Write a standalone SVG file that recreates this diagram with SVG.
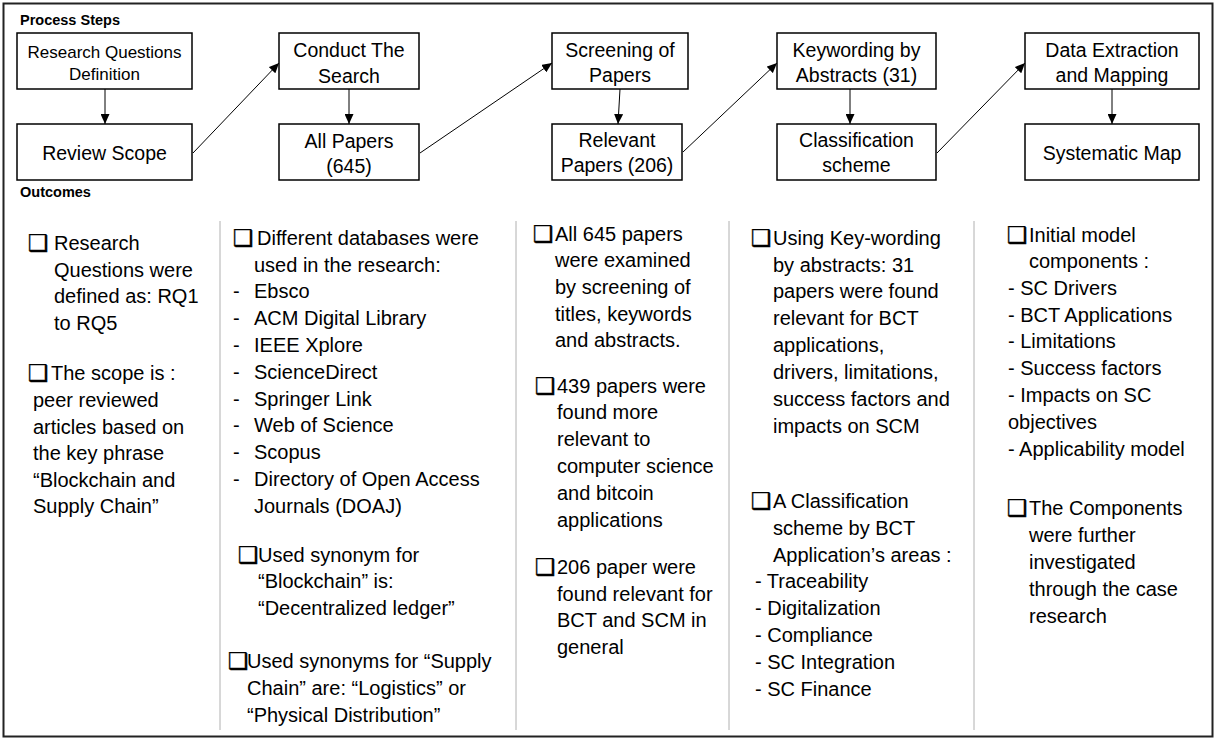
<svg xmlns="http://www.w3.org/2000/svg" width="1216" height="740" viewBox="0 0 1216 740">
<style>
text{font-family:"Liberation Sans",Arial,sans-serif;fill:#000}
.box{fill:#fff;stroke:#000;stroke-width:1.5}
.lbl{font-size:19.5px;text-anchor:middle}
.small{font-size:17px}
.hdr{font-size:14.5px;font-weight:bold}
.t{font-size:20px}
.bul{font-family:"DejaVu Sans",sans-serif;font-size:23px;stroke:#000;stroke-width:0.4}
.sep{stroke:#b0b0b0;stroke-width:1}
.conn{stroke:#000;stroke-width:1;fill:none;marker-end:url(#ah)}
</style>
<defs>
<marker id="ah" markerUnits="userSpaceOnUse" markerWidth="10" markerHeight="9" refX="10" refY="4.5" orient="auto">
<path d="M0,0 L10,4.5 L0,9 z" fill="#000"/>
</marker>
</defs>
<rect x="3.5" y="3.5" width="1209" height="733" fill="#fff" stroke="#222" stroke-width="2"/>
<text class="hdr" x="20" y="25">Process Steps</text>
<text class="hdr" x="20" y="197">Outcomes</text>

<g id="n-rqd"><rect class="box" x="17" y="33" width="175" height="56"/><text class="lbl small" x="104.5" y="58">Research Questions</text><text class="lbl small" x="104.5" y="80">Definition</text></g>
<g id="n-scope"><rect class="box" x="17" y="124" width="175" height="56"/><text class="lbl" x="104.5" y="160">Review Scope</text></g>
<g id="n-search"><rect class="box" x="279" y="33" width="140" height="56"/><text class="lbl" x="349" y="57">Conduct The</text><text class="lbl" x="349" y="83">Search</text></g>
<g id="n-all"><rect class="box" x="279" y="124" width="140" height="56"/><text class="lbl" x="349" y="148">All Papers</text><text class="lbl" x="349" y="173">(645)</text></g>
<g id="n-screen"><rect class="box" x="552" y="33" width="136" height="56"/><text class="lbl" x="620" y="57">Screening of</text><text class="lbl" x="620" y="82">Papers</text></g>
<g id="n-relevant"><rect class="box" x="552" y="124" width="130" height="56"/><text class="lbl" x="617" y="147">Relevant</text><text class="lbl" x="617" y="172">Papers (206)</text></g>
<g id="n-keyword"><rect class="box" x="777" y="33" width="159" height="56"/><text class="lbl" x="856.5" y="57">Keywording by</text><text class="lbl" x="856.5" y="82">Abstracts (31)</text></g>
<g id="n-class"><rect class="box" x="777" y="124" width="159" height="56"/><text class="lbl" x="856.5" y="147">Classification</text><text class="lbl" x="856.5" y="172">scheme</text></g>
<g id="n-data"><rect class="box" x="1025" y="33" width="174" height="56"/><text class="lbl" x="1112" y="57">Data Extraction</text><text class="lbl" x="1112" y="82">and Mapping</text></g>
<g id="n-map"><rect class="box" x="1025" y="124" width="174" height="56"/><text class="lbl" x="1112" y="160">Systematic Map</text></g>

<g id="connectors">
<line class="conn" x1="105" y1="89" x2="105" y2="124"/>
<line class="conn" x1="349" y1="89" x2="349" y2="124"/>
<line class="conn" x1="620" y1="89" x2="618" y2="124"/>
<line class="conn" x1="850" y1="89" x2="850" y2="124"/>
<line class="conn" x1="1112" y1="89" x2="1112" y2="124"/>
<line class="conn" x1="193" y1="153" x2="279" y2="63"/>
<line class="conn" x1="420" y1="153" x2="552" y2="63"/>
<line class="conn" x1="683" y1="152" x2="777" y2="63"/>
<line class="conn" x1="937" y1="153" x2="1025" y2="63"/>
</g>

<g id="separators">
<line class="sep" x1="220" y1="221" x2="220" y2="730"/>
<line class="sep" x1="516" y1="221" x2="516" y2="730"/>
<line class="sep" x1="729" y1="221" x2="729" y2="730"/>
<line class="sep" x1="974" y1="221" x2="974" y2="730"/>
</g>

<g id="col1">
<text class="bul" x="28" y="251">❑</text>
<text class="t" x="54" y="250">Research</text>
<text class="t" x="54" y="276.5">Questions were</text>
<text class="t" x="54" y="303">defined as: RQ1</text>
<text class="t" x="54" y="329.5">to RQ5</text>
<text class="bul" x="28" y="381">❑</text>
<text class="t" x="51" y="380">The scope is :</text>
<text class="t" x="33" y="407">peer reviewed</text>
<text class="t" x="33" y="433.5">articles based on</text>
<text class="t" x="33" y="460">the key phrase</text>
<text class="t" x="33" y="487">“Blockchain and</text>
<text class="t" x="33" y="513">Supply Chain”</text>
</g>

<g id="col2">
<text class="bul" x="233" y="246">❑</text>
<text class="t" x="257" y="245">Different databases were</text>
<text class="t" x="254" y="272">used in the research:</text>
<text class="t" x="233" y="298">-</text><text class="t" x="254" y="298">Ebsco</text>
<text class="t" x="233" y="325">-</text><text class="t" x="254" y="325">ACM Digital Library</text>
<text class="t" x="233" y="352">-</text><text class="t" x="254" y="352">IEEE Xplore</text>
<text class="t" x="233" y="379">-</text><text class="t" x="254" y="379">ScienceDirect</text>
<text class="t" x="233" y="406">-</text><text class="t" x="254" y="406">Springer Link</text>
<text class="t" x="233" y="432">-</text><text class="t" x="254" y="432">Web of Science</text>
<text class="t" x="233" y="459">-</text><text class="t" x="254" y="459">Scopus</text>
<text class="t" x="233" y="486">-</text><text class="t" x="254" y="486">Directory of Open Access</text>
<text class="t" x="254" y="513">Journals (DOAJ)</text>
<text class="bul" x="238" y="563">❑</text>
<text class="t" x="258" y="562">Used synonym for</text>
<text class="t" x="258" y="588">“Blockchain” is:</text>
<text class="t" x="258" y="615">“Decentralized ledger”</text>
<text class="bul" x="228" y="669">❑</text>
<text class="t" x="247" y="668">Used synonyms for “Supply</text>
<text class="t" x="247" y="695">Chain” are: “Logistics” or</text>
<text class="t" x="247" y="722">“Physical Distribution”</text>
</g>

<g id="col3">
<text class="bul" x="533" y="242">❑</text>
<text class="t" x="555" y="241">All 645 papers</text>
<text class="t" x="555" y="267">were examined</text>
<text class="t" x="555" y="294">by screening of</text>
<text class="t" x="555" y="321">titles, keywords</text>
<text class="t" x="555" y="347">and abstracts.</text>
<text class="bul" x="535" y="394">❑</text>
<text class="t" x="557" y="393">439 papers were</text>
<text class="t" x="557" y="419">found more</text>
<text class="t" x="557" y="446">relevant to</text>
<text class="t" x="557" y="473">computer science</text>
<text class="t" x="557" y="500">and bitcoin</text>
<text class="t" x="557" y="527">applications</text>
<text class="bul" x="535" y="575">❑</text>
<text class="t" x="557" y="574">206 paper were</text>
<text class="t" x="557" y="601">found relevant for</text>
<text class="t" x="557" y="627">BCT and SCM in</text>
<text class="t" x="557" y="654">general</text>
</g>

<g id="col4">
<text class="bul" x="751" y="246">❑</text>
<text class="t" x="773" y="245">Using Key-wording</text>
<text class="t" x="773" y="272">by abstracts: 31</text>
<text class="t" x="773" y="298">papers were found</text>
<text class="t" x="773" y="325">relevant for BCT</text>
<text class="t" x="773" y="352">applications,</text>
<text class="t" x="773" y="379">drivers, limitations,</text>
<text class="t" x="773" y="406">success factors and</text>
<text class="t" x="773" y="433">impacts on SCM</text>
<text class="bul" x="751" y="509">❑</text>
<text class="t" x="773" y="508">A Classification</text>
<text class="t" x="773" y="535">scheme by BCT</text>
<text class="t" x="773" y="562">Application’s areas :</text>
<text class="t" x="755" y="588">- Traceability</text>
<text class="t" x="755" y="615">- Digitalization</text>
<text class="t" x="755" y="642">- Compliance</text>
<text class="t" x="755" y="669">- SC Integration</text>
<text class="t" x="755" y="696">- SC Finance</text>
</g>

<g id="col5">
<text class="bul" x="1007" y="243">❑</text>
<text class="t" x="1029" y="242">Initial model</text>
<text class="t" x="1029" y="268">components :</text>
<text class="t" x="1008" y="295">- SC Drivers</text>
<text class="t" x="1008" y="322">- BCT Applications</text>
<text class="t" x="1008" y="348">- Limitations</text>
<text class="t" x="1008" y="375">- Success factors</text>
<text class="t" x="1008" y="402">- Impacts on SC</text>
<text class="t" x="1008" y="429">objectives</text>
<text class="t" x="1008" y="456">- Applicability model</text>
<text class="bul" x="1007" y="516">❑</text>
<text class="t" x="1029" y="515">The Components</text>
<text class="t" x="1029" y="542">were further</text>
<text class="t" x="1029" y="569">investigated</text>
<text class="t" x="1029" y="596">through the case</text>
<text class="t" x="1029" y="623">research</text>
</g>
</svg>
